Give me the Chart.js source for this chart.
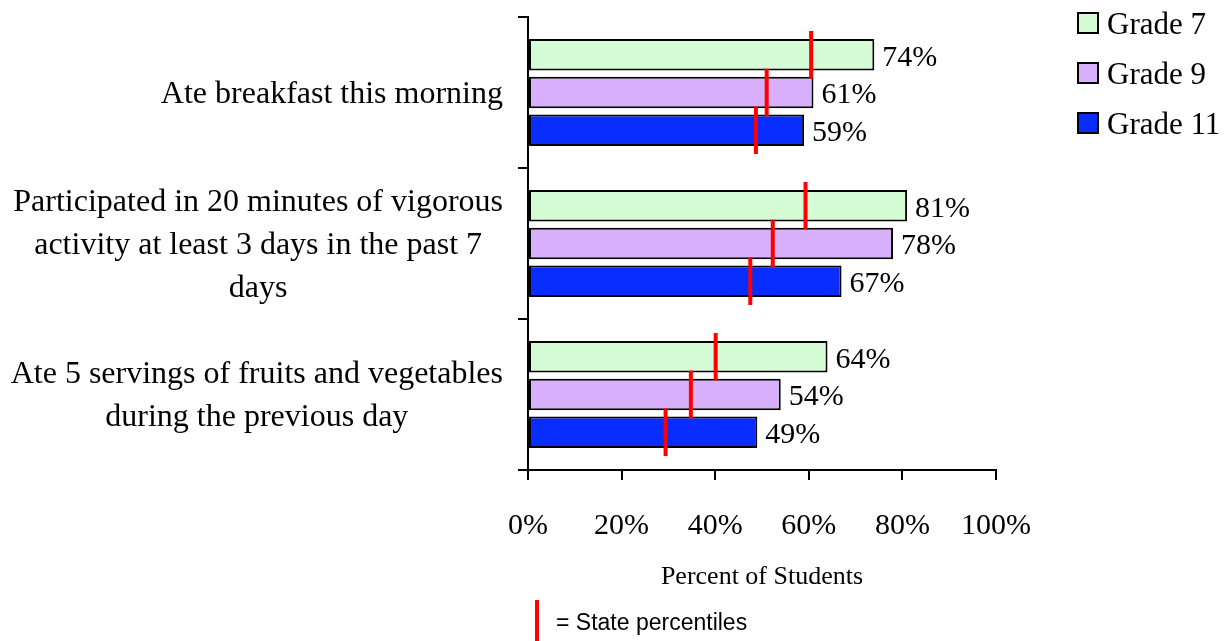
<!DOCTYPE html>
<html>
<head>
<meta charset="utf-8">
<script src="https://cdn.jsdelivr.net/npm/chart.js@4.4.0/dist/chart.umd.min.js"></script>
<style>
  html, body { margin: 0; padding: 0; background: #fff; }
  #wrap { width: 1228px; height: 641px; position: relative; }
</style>
</head>
<body>
<div id="wrap"><canvas id="chart"></canvas></div>
<script>
// Data
const categories = [
    ['Ate breakfast this morning'],
    ['Participated in 20 minutes of vigorous', 'activity at least 3 days in the past 7', 'days'],
    ['Ate 5 servings of fruits and vegetables', 'during the previous day']
];
const grades = ['Grade 7', 'Grade 9', 'Grade 11'];
const grade7 = [74, 81, 64];
const grade9 = [61, 78, 54];
const grade11 = [59, 67, 49];
// State percentiles (red marks)
const state7 = [60.5, 59.3, 40.1];
const state9 = [51.0, 52.3, 34.8];
const state11 = [48.7, 47.5, 29.4];
const xTicks = [0, 20, 40, 60, 80, 100];

const colors = ['#d6fcd6', '#d8b0fc', '#0a2dff'];
const serif = '"Liberation Serif", "Times New Roman", serif';

// Red state marks, value labels, category labels, legend and notes
const extras = {
    id: 'extras',
    afterDatasetsDraw(chart) {
        const ctx = chart.ctx;
        const x = chart.scales.x;
        const states = [state7, state9, state11];
        ctx.save();
        // value labels
        ctx.fillStyle = '#000';
        ctx.font = '30px ' + serif;
        ctx.textBaseline = 'middle';
        ctx.textAlign = 'left';
        chart.data.datasets.forEach(function(ds, i) {
            chart.getDatasetMeta(i).data.forEach(function(bar, j) {
                ctx.fillText(ds.data[j] + '%', bar.x + 8, bar.y + 3);
            });
        });
        // state marks
        ctx.strokeStyle = '#ff0000';
        ctx.lineWidth = 4;
        chart.data.datasets.forEach(function(ds, i) {
            chart.getDatasetMeta(i).data.forEach(function(bar, j) {
                const px = x.getPixelForValue(states[i][j]);
                const h = bar.height * 0.76;
                ctx.beginPath();
                ctx.moveTo(px, bar.y - h);
                ctx.lineTo(px, bar.y + h);
                ctx.stroke();
            });
        });
        ctx.restore();
    },
    afterDraw(chart) {
        const ctx = chart.ctx;
        const area = chart.chartArea;
        const y = chart.scales.y;
        ctx.save();
        // category labels: centred lines, block right-aligned
        ctx.fillStyle = '#000';
        ctx.font = '32px ' + serif;
        ctx.textBaseline = 'middle';
        ctx.textAlign = 'center';
        const lh = 43;
        const right = area.left - 25;
        categories.forEach(function(lines, i) {
            const cy = y.getPixelForTick(i);
            const w = Math.max.apply(null, lines.map(function(l) { return ctx.measureText(l).width; }));
            const cx = right - w / 2;
            lines.forEach(function(l, k) {
                ctx.fillText(l, cx, cy + (k - (lines.length - 1) / 2) * lh + 2);
            });
        });
        // legend
        ctx.font = '31px ' + serif;
        ctx.textAlign = 'left';
        grades.forEach(function(g, i) {
            const cy = 23 + i * 50;
            ctx.fillStyle = colors[i];
            ctx.fillRect(1078, cy - 10, 20, 20);
            ctx.strokeStyle = '#000';
            ctx.lineWidth = 2;
            ctx.strokeRect(1078, cy - 10, 20, 20);
            ctx.fillStyle = '#000';
            ctx.fillText(g, 1107, cy + 3);
        });
        // axis title
        ctx.textAlign = 'center';
        ctx.font = '26px ' + serif;
        ctx.fillText('Percent of Students', (area.left + area.right) / 2, 577);
        // state note
        ctx.strokeStyle = '#ff0000';
        ctx.lineWidth = 4;
        ctx.beginPath();
        ctx.moveTo(537, 600);
        ctx.lineTo(537, 641);
        ctx.stroke();
        ctx.textAlign = 'left';
        ctx.font = '23px "Liberation Sans", Arial, sans-serif';
        ctx.fillText('= State percentiles', 556, 624);
        ctx.restore();
    }
};

new Chart(document.getElementById('chart'), {
    type: 'bar',
    data: {
        labels: categories.map(function(l) { return l.join(' '); }),
        datasets: [grade7, grade9, grade11].map(function(d, i) {
            return {
                label: grades[i],
                data: d,
                backgroundColor: colors[i],
                borderColor: '#000',
                borderWidth: 2,
                borderSkipped: false,
                categoryPercentage: 0.75,
                barPercentage: 0.83
            };
        })
    },
    options: {
        indexAxis: 'y',
        responsive: true,
        maintainAspectRatio: false,
        animation: false,
        layout: { padding: { top: 17, right: 232, left: 0, bottom: 0 } },
        plugins: {
            legend: { display: false },
            tooltip: { enabled: false }
        },
        scales: {
            x: {
                min: 0,
                max: 100,
                afterFit: function(s) { s.height = 171; },
                afterBuildTicks: function(s) { s.ticks = xTicks.map(function(v) { return { value: v }; }); },
                grid: { drawOnChartArea: false, tickLength: 10, color: '#000', lineWidth: 2 },
                border: { color: '#000', width: 2 },
                ticks: {
                    color: '#000',
                    padding: 28,
                    maxRotation: 0,
                    font: { family: serif, size: 30 },
                    callback: function(v) { return v + '%'; }
                }
            },
            y: {
                afterFit: function(s) {
                    s.width = 528;
                    s.paddingTop = 0;
                    s.paddingBottom = 0;
                },
                grid: { drawOnChartArea: false, offset: true, tickLength: 10, color: '#000', lineWidth: 2 },
                border: { color: '#000', width: 2 },
                ticks: { display: false }
            }
        }
    },
    plugins: [extras]
});
</script>
</body>
</html>
